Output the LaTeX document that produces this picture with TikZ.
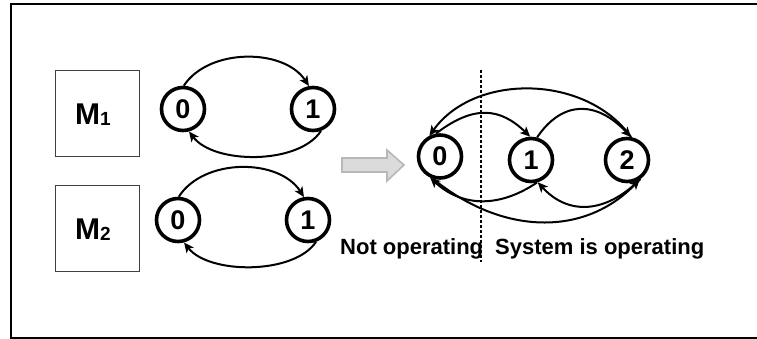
\documentclass[tikz,border=0pt]{standalone}
\usepackage{fontspec}
\setmainfont{Liberation Sans}
\usetikzlibrary{arrows.meta}
\begin{document}
\begin{tikzpicture}[x=1pt,y=1pt,
  state/.style={circle,draw,line width=3.6pt,minimum size=43pt,inner sep=0pt,
    font=\fontsize{27}{27}\selectfont\bfseries},
  machine/.style={draw=black!75,line width=1pt,minimum width=84pt,minimum height=86pt,inner sep=0pt},
  mlabel/.style={anchor=base,inner sep=0pt},
  trans/.style={line width=2pt,-{Stealth[length=10pt,width=9pt,inset=2.5pt]}},
  caption/.style={anchor=base west,inner sep=0pt,font=\fontsize{22}{22}\selectfont\bfseries},
  divider/.style={line width=1.6pt,dash pattern=on 3pt off 2pt},
  blockarrow/.style={fill=black!14,draw=black!28,line width=1.6pt,line join=miter},
]
\useasboundingbox (0,0) rectangle (757,339);

% outer frame (open on the right)
\draw[line width=2pt] (765,334.5) -- (11,334.5) -- (11,1) -- (765,1);

% the two machines
\node[machine] (m1) at (97,225) {};
\node[machine] (m2) at (97,110) {};
\node[mlabel] (m1t) at (93,214)
  {\bfseries\fontsize{30}{30}\selectfont M\fontsize{19}{19}\selectfont\raisebox{-1pt}{1}};
\node[mlabel] (m2t) at (93,99)
  {\bfseries\fontsize{30}{30}\selectfont M\fontsize{19}{19}\selectfont\raisebox{-1pt}{2}};

% machine 1 states
\node[state] (p0) at (183,230) {0};
\node[state] (p1) at (313,230) {1};
\draw[trans] (p0.88) .. controls +(25,38) and +(-25,38) .. (p1.100);
\draw[trans] (p1.-70) .. controls +(-22,-34) and +(25,-33) .. (p0.-75);

% machine 2 states
\node[state] (q0) at (178,119) {0};
\node[state] (q1) at (308,119) {1};
\draw[trans] (q0.88) .. controls +(25,39) and +(-25,39) .. (q1.100);
\draw[trans] (q1.-70) .. controls +(-22,-33) and +(25,-32) .. (q0.-75);

% combined system
\draw[blockarrow] (342,181) -- (387,181) -- (387,189) -- (404,174)
  -- (387,158) -- (387,167) -- (342,167) -- cycle;

\node[state] (r0) at (440,182.5) {0};
\node[state] (r1) at (531,179) {1};
\node[state] (r2) at (627,179) {2};

\draw[trans] (r2.80) .. controls +(-45,63) and +(45,63) .. (r0.117);
\draw[trans] (r0.100) .. controls +(38,29) and +(-30,29) .. (r1.92);
\draw[trans] (r1.75) .. controls +(25,37) and +(-35,37) .. (r2.80);

\draw[trans] (r1.-75) .. controls +(-40,-27) and +(30,-28) .. (r0.-115);
\draw[trans] (r2.-55) .. controls +(-35,-35) and +(30,-33) .. (r1.-73);
\draw[trans] (r0.-108) .. controls +(70,-57) and +(-55,-57) .. (r2.-57);

% boundary between failed and working states
\coordinate (divtop) at (481,269);
\coordinate (divbot) at (481,77);
\draw[divider] (divtop) -- (divbot);

\node[caption] (notop) at (340,84) {Not operating};
\node[caption] (sysop) at (495,84) {System is operating};
\end{tikzpicture}
\end{document}
